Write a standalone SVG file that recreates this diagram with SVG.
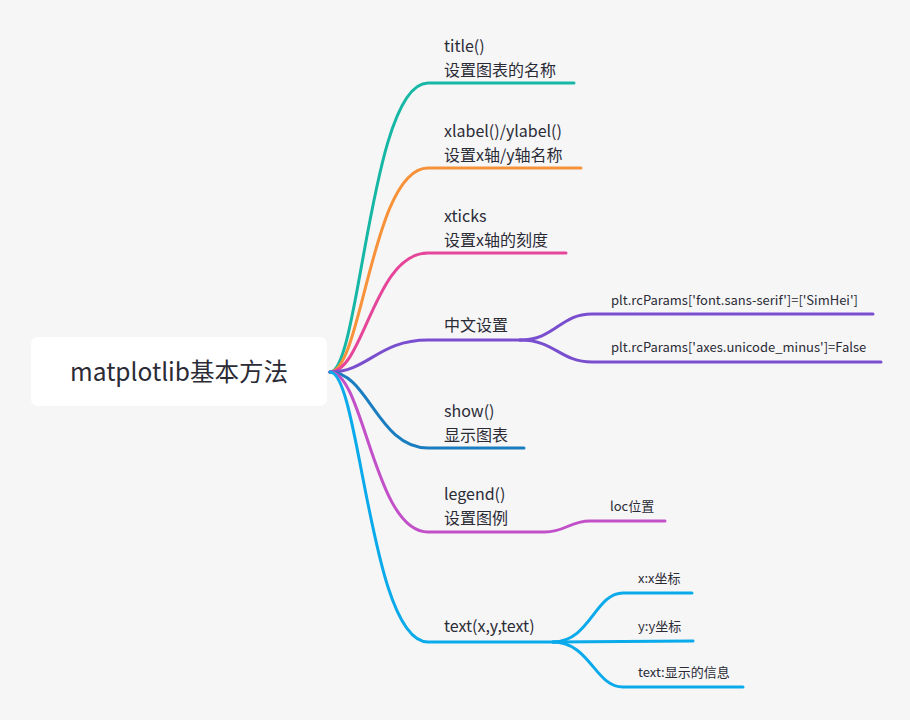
<svg xmlns="http://www.w3.org/2000/svg" width="910" height="720" viewBox="0 0 910 720">
<style>
.t{font-family:"Noto Sans CJK SC","Microsoft YaHei",sans-serif;fill:#2b2b36;}
.m{font-size:16px;}
.s{font-size:13px;}
.c{fill:none;stroke-width:3;stroke-linecap:round;}
</style>
<rect width="910" height="720" fill="#f6f6f6"/>
<g id="connectors">
<path class="c" stroke="#17b7a5" d="M330,372 C360,372 370,83 428,83 L574,83"/>
<path class="c" stroke="#f7923a" d="M330,372 C362,372 372,168 428,168 L581,168"/>
<path class="c" stroke="#e6469a" d="M330,372 C364,372 374,253 428,253 L566,253"/>
<path class="c" stroke="#7a4fcf" d="M330,372 C368,372 378,340 428,340 L520,340"/>
<path class="c" stroke="#7a4fcf" d="M520,340 C555,340 560,314 592,314 L873,314"/>
<path class="c" stroke="#7a4fcf" d="M520,340 C555,340 560,362 592,362 L881,362"/>
<path class="c" stroke="#1a7dc0" d="M330,372 C368,372 378,448 428,448 L524,448"/>
<path class="c" stroke="#c250c8" d="M330,372 C364,372 374,532 428,532 L545,532 C565,532 570,521 590,521 L665,521"/>
<path class="c" stroke="#0aaaeb" d="M330,372 C360,372 370,642 428,642 L553,642"/>
<path class="c" stroke="#0aaaeb" d="M553,642 C590,642 595,593 623,593 L692,593"/>
<path class="c" stroke="#0aaaeb" d="M553,642 L693,641"/>
<path class="c" stroke="#0aaaeb" d="M553,642 C590,642 595,687 623,687 L743,687"/>
</g>
<g id="root">
<rect x="31" y="337" width="296" height="69" rx="7" fill="#ffffff"/>
<text class="t" x="179" y="381" font-size="24.5" text-anchor="middle">matplotlib基本方法</text>
</g>
<g id="n-title">
<text class="t m" x="444" y="52">title()</text>
<text class="t m" x="444" y="76">设置图表的名称</text>
</g>
<g id="n-xlabel">
<text class="t m" x="444" y="137">xlabel()/ylabel()</text>
<text class="t m" x="444" y="161">设置x轴/y轴名称</text>
</g>
<g id="n-xticks">
<text class="t m" x="444" y="222">xticks</text>
<text class="t m" x="444" y="246">设置x轴的刻度</text>
</g>
<g id="n-zh">
<text class="t m" x="444" y="331">中文设置</text>
</g>
<g id="n-zh1">
<text class="t s" x="611" y="305">plt.rcParams['font.sans-serif']=['SimHei']</text>
</g>
<g id="n-zh2">
<text class="t s" x="611" y="352">plt.rcParams['axes.unicode_minus']=False</text>
</g>
<g id="n-show">
<text class="t m" x="444" y="417">show()</text>
<text class="t m" x="444" y="441">显示图表</text>
</g>
<g id="n-legend">
<text class="t m" x="444" y="500">legend()</text>
<text class="t m" x="444" y="524">设置图例</text>
</g>
<g id="n-loc">
<text class="t s" x="610" y="511">loc位置</text>
</g>
<g id="n-text">
<text class="t m" x="444" y="632">text(x,y,text)</text>
</g>
<g id="n-x">
<text class="t s" x="638" y="583">x:x坐标</text>
</g>
<g id="n-y">
<text class="t s" x="638" y="631">y:y坐标</text>
</g>
<g id="n-info">
<text class="t s" x="638" y="677">text:显示的信息</text>
</g>
</svg>
